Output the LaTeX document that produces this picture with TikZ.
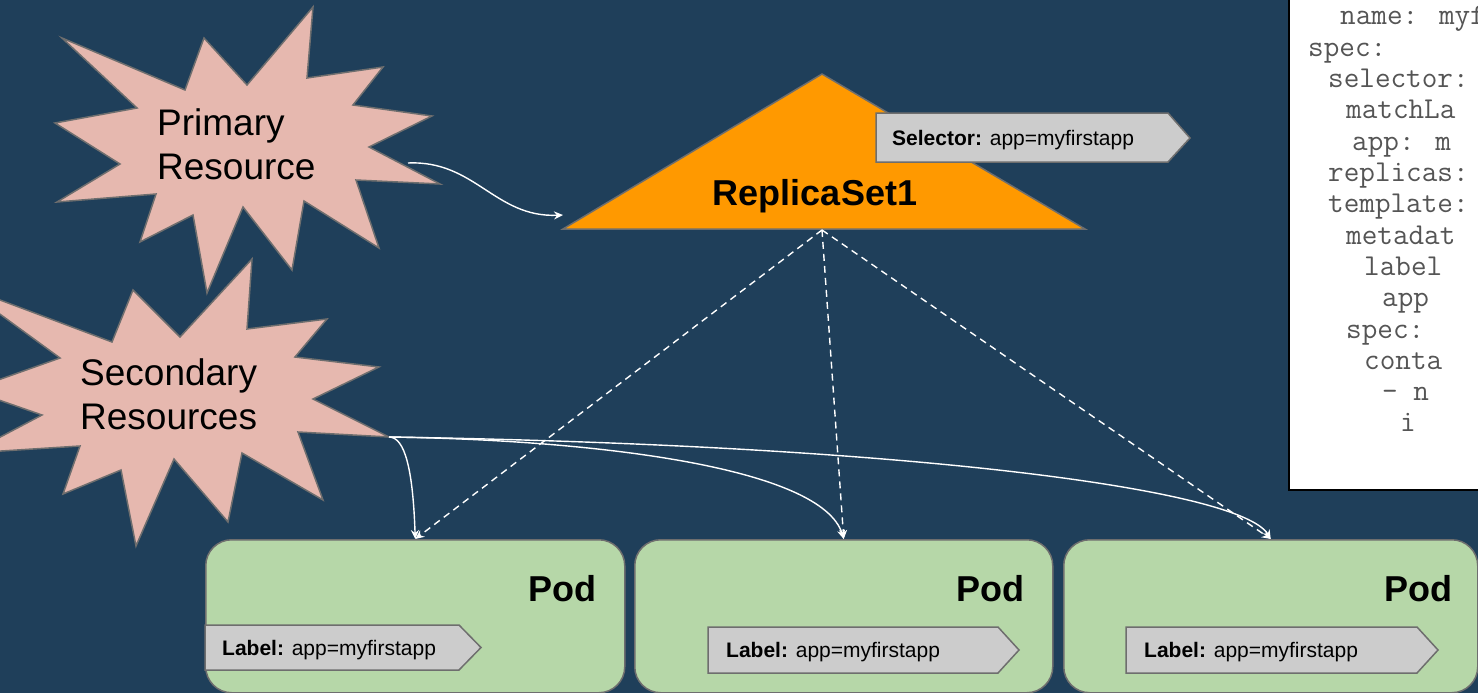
\documentclass[tikz,border=0pt]{standalone}
\usepackage{fontspec}
\setmainfont{Liberation Sans}
\usetikzlibrary{arrows.meta}

\definecolor{bgblue}{HTML}{1F3F5A}
\definecolor{burstpink}{HTML}{E6B8AF}
\definecolor{rsorange}{HTML}{FF9900}
\definecolor{podgreen}{HTML}{B6D7A8}
\definecolor{taggray}{HTML}{CCCCCC}
\definecolor{outlinegray}{HTML}{6E6E6E}
\definecolor{codegray}{HTML}{555555}

\tikzset{
  flow/.style={draw=white, line width=1.4pt, -{Stealth[length=9pt,width=8pt,inset=3pt]}},
  owner/.style={flow, dash pattern=on 7pt off 5pt},
  burst/.style={fill=burstpink, draw=outlinegray, line width=1.5pt, line join=miter},
  tagshape/.style={fill=taggray, draw=outlinegray, line width=1.5pt},
  podbox/.style={rectangle, rounded corners=26pt, fill=podgreen, draw=outlinegray,
    line width=1.5pt, inner sep=0pt, anchor=north west},
  bursttext/.style={font=\fontsize{37}{44}\selectfont, align=left, inner sep=0pt, anchor=base west},
  heading/.style={font=\bfseries\fontsize{36}{43}\selectfont, inner sep=0pt},
  tagtext/.style={font=\fontsize{21}{25}\selectfont, inner sep=0pt, anchor=base west},
  codeline/.style={font=\ttfamily\fontsize{30.3}{32}\selectfont, text=codegray, inner sep=0pt, anchor=base west},
}

\begin{document}
\begin{tikzpicture}[x=1pt, y=-1pt]
\useasboundingbox (0,0) rectangle (1478,693);
\clip (0,0) rectangle (1478,693);
\fill[bgblue] (0,0) rectangle (1478,693);

% ---- manifest panel ----
\draw[fill=white, draw=black, line width=2pt] (1289,-10) rectangle (1500,490);
\foreach \xx/\txt [count=\k from 0] in {
  1340/name: myf, 1308/spec:, 1328/selector:, 1346/matchLa, 1352/app: m,
  1328/replicas:, 1328/template:, 1346/metadat, 1364/label, 1382/app,
  1346/spec:, 1364/conta, 1382/- n, 1400/i}
{
  \node[codeline] (code\k) at (\xx, 25+31.3*\k) {\txt};
}

% ---- primary resource burst ----
\draw[burst] (313,7) -- (307,78) -- (383,67) -- (353,105) -- (432,116) -- (369,147)
  -- (440,184) -- (356,180) -- (379,248) -- (304,201) -- (292,270) -- (243,207)
  -- (207,293) -- (193,215) -- (140,242) -- (156,194) -- (57,202) -- (120,164)
  -- (55,123) -- (137,108) -- (62,38) -- (185,90) -- (204,38) -- (247,85) -- cycle;
\node[bursttext] (primary) at (157,179) {Primary\\Resource};
\coordinate (primary-out) at (408,163);

% ---- secondary resources burst ----
\draw[burst] (252,259) -- (247,329) -- (327,319) -- (295,357) -- (379,367) -- (313,399)
  -- (389,437) -- (298,432) -- (323,500) -- (242,453) -- (228,522) -- (174,459)
  -- (136,546) -- (121,470) -- (63,494) -- (80,446) -- (-30,453) -- (42,415)
  -- (-30,390) -- (60,358) -- (-40,285) -- (112,342) -- (133,290) -- (180,337) -- cycle;
\node[bursttext] (secondary) at (80,429) {Secondary\\Resources};
\coordinate (secondary-out) at (389,437);

% ---- replica set ----
\draw[fill=rsorange, draw=outlinegray, line width=1.5pt] (822,74) -- (1085,229) -- (563,229) -- cycle;
\node[heading, anchor=base] (rs) at (815,205) {ReplicaSet1};
\coordinate (rs-base) at (822,230);
\coordinate (rs-in) at (563,215);

\draw[tagshape] (876,113) -- (1168,113) -- (1190,138) -- (1168,162) -- (876,162) -- cycle;
\node[tagtext] (selector) at (892,145) {\textbf{Selector:} app=myfirstapp};

% ---- pods ----
\node[podbox, minimum width=419pt, minimum height=153pt] (pod1) at (205,539) {};
\node[podbox, minimum width=418pt, minimum height=153pt] (pod2) at (634,539) {};
\node[podbox, minimum width=414pt, minimum height=153pt] (pod3) at (1063,539) {};

\node[heading, anchor=base east] (podname1) at (597,601) {Pod};
\node[heading, anchor=base east] (podname2) at (1025,601) {Pod};
\node[heading, anchor=base east] (podname3) at (1453,601) {Pod};

\draw[tagshape] (205,625) -- (459,625) -- (481,647.5) -- (459,670) -- (205,670) -- cycle;
\node[tagtext] (label1) at (222,655) {\textbf{Label:} app=myfirstapp};
\draw[tagshape] (708,627) -- (998,627) -- (1019,650) -- (998,673) -- (708,673) -- cycle;
\node[tagtext] (label2) at (726,657) {\textbf{Label:} app=myfirstapp};
\draw[tagshape] (1126,627) -- (1417,627) -- (1438,650) -- (1417,673) -- (1126,673) -- cycle;
\node[tagtext] (label3) at (1144,657) {\textbf{Label:} app=myfirstapp};

% ---- connectors ----
\draw[flow] (primary-out) .. controls (475,160) and (495,218) .. (rs-in);

\draw[owner] (rs-base) -- (pod1.north);
\draw[owner] (rs-base) -- (pod2.north);
\draw[owner] (rs-base) -- (pod3.north);

\draw[flow] (secondary-out) .. controls (405,437) and (413,470) .. (pod1.north);
\draw[flow] (secondary-out) .. controls (600,440) and (822,468) .. (pod2.north);
\draw[flow] (secondary-out) .. controls (900,445) and (1240,488) .. (pod3.north);
\end{tikzpicture}
\end{document}
